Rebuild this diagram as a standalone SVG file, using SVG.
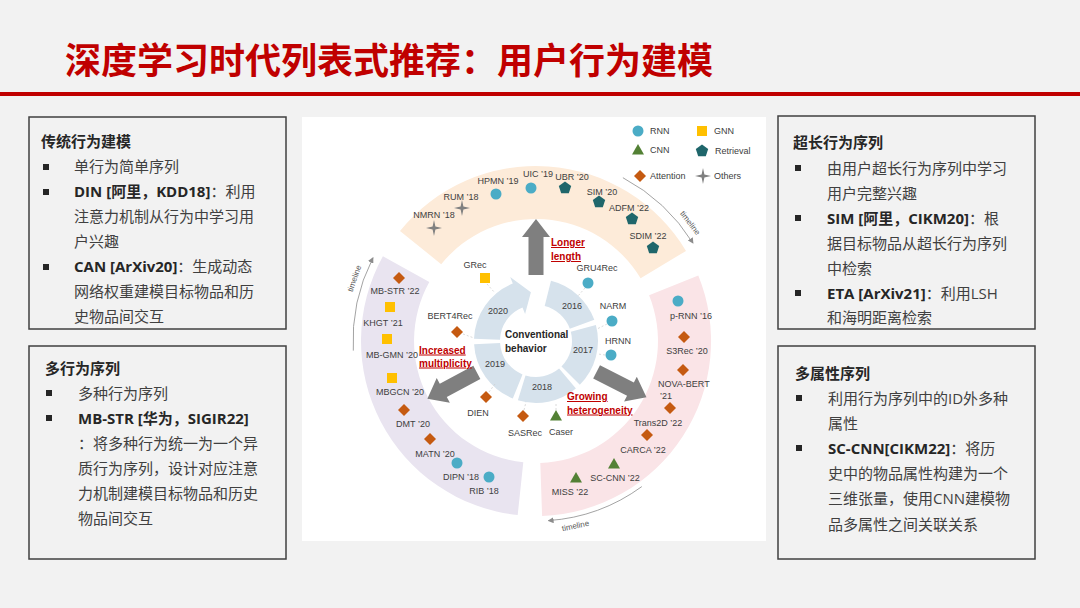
<svg xmlns="http://www.w3.org/2000/svg" width="1080" height="608" viewBox="0 0 1080 608">
<defs>
<style>
.title{font-family:'Noto Sans CJK SC',sans-serif;font-weight:700;font-size:36px;fill:#c00000}
.box{fill:none;stroke:#404040;stroke-width:1.5}
.bt{font-family:'Open Sans','Noto Sans CJK SC',sans-serif;font-size:15px;fill:#404040}
.b{font-weight:700;fill:#262626}
.bul{fill:#262626}
.lbl{font-family:'Liberation Sans',Arial,sans-serif;font-size:9px;fill:#404040;text-anchor:middle}
.lg{font-family:'Liberation Sans',Arial,sans-serif;font-size:9px;fill:#404040}
.red{font-family:'Liberation Sans',Arial,sans-serif;font-size:10px;font-weight:700;fill:#c00000;text-decoration:underline}
.conv{font-family:'Liberation Sans',Arial,sans-serif;font-size:10px;font-weight:700;fill:#262626}
.dash{stroke:#d0d0d0;stroke-width:0.8;stroke-dasharray:2 2;fill:none}
.tl{fill:none;stroke:#8c8c8c;stroke-width:0.8}
.tlt{font-family:'Liberation Sans',Arial,sans-serif;font-size:8px;fill:#595959;text-anchor:middle;dominant-baseline:central}
.ga{fill:#7f7f7f}
.ring{fill:#d6e2ec}
</style>
<marker id="ah" viewBox="0 0 6 6" refX="5" refY="3" markerWidth="6" markerHeight="6" orient="auto" markerUnits="userSpaceOnUse">
<path d="M0,0 L6,3 L0,6 Z" fill="#8c8c8c"/>
</marker>
<circle id="mc" r="5.5" fill="#4bacc6"/>
<rect id="ms" x="-5" y="-5" width="10" height="10" fill="#ffc000"/>
<polygon id="mt" points="0,-6 6,4.5 -6,4.5" fill="#538135"/>
<polygon id="md" points="0,-6 6,0 0,6 -6,0" fill="#c55a11"/>
<polygon id="mp" points="0,-6.5 6.18,-2 3.82,5.26 -3.82,5.26 -6.18,-2" fill="#1f666b"/>
<path id="mx" d="M0,-8 L1.4,-1.4 L8,0 L1.4,1.4 L0,8 L-1.4,1.4 L-8,0 L-1.4,-1.4 Z" fill="#808080"/>
<polygon id="garr" points="0,-7.5 38,-7.5 38,-14 56,0 38,14 38,7.5 0,7.5"/>
</defs>

<rect width="1080" height="608" fill="#f2f2f2"/>
<text class="title" x="65" y="74">深度学习时代列表式推荐：用户行为建模</text>
<rect x="0" y="92" width="1080" height="4" fill="#c00000"/>

<g id="box-traditional">
<rect class="box" x="29" y="117" width="257" height="212"/>
<text class="bt b" x="41" y="147">传统行为建模</text>
<rect class="bul" x="43" y="164" width="6" height="6"/>
<text class="bt" x="74" y="172">单行为简单序列</text>
<rect class="bul" x="43" y="189" width="6" height="6"/>
<text class="bt" x="74" y="197"><tspan class="b">DIN [阿里，KDD18]</tspan>：利用</text>
<text class="bt" x="74" y="222">注意力机制从行为中学习用</text>
<text class="bt" x="74" y="247">户兴趣</text>
<rect class="bul" x="43" y="264" width="6" height="6"/>
<text class="bt" x="74" y="272"><tspan class="b">CAN [ArXiv20]</tspan>：生成动态</text>
<text class="bt" x="74" y="297">网络权重建模目标物品和历</text>
<text class="bt" x="74" y="322">史物品间交互</text>
</g>

<g id="box-multibehavior">
<rect class="box" x="29" y="346" width="257" height="213"/>
<text class="bt b" x="45" y="374">多行为序列</text>
<rect class="bul" x="46" y="390" width="6" height="6"/>
<text class="bt" x="78" y="399">多种行为序列</text>
<rect class="bul" x="46" y="415" width="6" height="6"/>
<text class="bt" x="78" y="424"><tspan class="b">MB-STR [华为，SIGIR22]</tspan></text>
<text class="bt" x="78" y="449">：将多种行为统一为一个异</text>
<text class="bt" x="78" y="474">质行为序列，设计对应注意</text>
<text class="bt" x="78" y="499">力机制建模目标物品和历史</text>
<text class="bt" x="78" y="524">物品间交互</text>
</g>

<g id="box-longseq">
<rect class="box" x="778" y="116" width="257" height="213"/>
<text class="bt b" x="793" y="148">超长行为序列</text>
<rect class="bul" x="795" y="165" width="6" height="6"/>
<text class="bt" x="827" y="174">由用户超长行为序列中学习</text>
<text class="bt" x="827" y="199">用户完整兴趣</text>
<rect class="bul" x="795" y="215" width="6" height="6"/>
<text class="bt" x="827" y="224"><tspan class="b">SIM [阿里，CIKM20]</tspan>：根</text>
<text class="bt" x="827" y="249">据目标物品从超长行为序列</text>
<text class="bt" x="827" y="274">中检索</text>
<rect class="bul" x="795" y="290" width="6" height="6"/>
<text class="bt" x="827" y="299"><tspan class="b">ETA [ArXiv21]</tspan>：利用LSH</text>
<text class="bt" x="827" y="323">和海明距离检索</text>
</g>

<g id="box-multiattr">
<rect class="box" x="778" y="346" width="257" height="213"/>
<text class="bt b" x="795" y="379">多属性序列</text>
<rect class="bul" x="796" y="395" width="6" height="6"/>
<text class="bt" x="828" y="404">利用行为序列中的ID外多种</text>
<text class="bt" x="828" y="429">属性</text>
<rect class="bul" x="796" y="445" width="6" height="6"/>
<text class="bt" x="828" y="454"><tspan class="b">SC-CNN[CIKM22]</tspan>：将历</text>
<text class="bt" x="828" y="479">史中的物品属性构建为一个</text>
<text class="bt" x="828" y="504">三维张量，使用CNN建模物</text>
<text class="bt" x="828" y="530">品多属性之间关联关系</text>
</g>

<g id="figure">
<rect x="302" y="117" width="464" height="424" fill="#ffffff"/>
<path id="band-longer" d="M400,230.9 A175,175 0 0 1 686,250.9 L640.6,278.2 A122,122 0 0 0 441.2,264.2 Z" fill="#fdebd9"/>
<path id="band-multi" d="M517.7,515 A175,175 0 0 1 382.9,256.2 L429.3,281.9 A122,122 0 0 0 523.3,462.3 Z" fill="#e9e4f0"/>
<path id="band-hetero" d="M698.3,275.4 A175,175 0 0 1 542.1,515.9 L540.3,462.9 A122,122 0 0 0 649.1,295.3 Z" fill="#fae4e7"/>

<g id="cycle">
<path class="ring" d="M551,280.8 A62,62 0 0 1 594.3,319.8 L569.8,328.7 A36,36 0 0 0 544.7,306.1 Z"/>
<path class="ring" d="M595.9,325 A62,62 0 0 1 579.8,384.8 L561.5,366.5 A36,36 0 0 0 570.8,331.7 Z"/>
<path class="ring" d="M575.9,388.5 A62,62 0 0 1 517.9,400.3 L525.5,375.4 A36,36 0 0 0 559.1,368.6 Z"/>
<path class="ring" d="M512.8,398.5 A62,62 0 0 1 474.1,344.2 L500.1,342.9 A36,36 0 0 0 522.5,374.4 Z"/>
<path class="ring" d="M474,338.8 A62,62 0 0 1 512.8,283.5 L510.2,277 L530.9,292.3 L525.1,314.1 L522.5,307.6 A36,36 0 0 0 500,339.7 Z"/>
<text class="lbl" x="572" y="309">2016</text>
<text class="lbl" x="583" y="353">2017</text>
<text class="lbl" x="542" y="390">2018</text>
<text class="lbl" x="495" y="367">2019</text>
<text class="lbl" x="498" y="314">2020</text>
<text class="conv" x="505" y="338">Conventional</text>
<text class="conv" x="505" y="352">behavior</text>
</g>

<g id="big-arrows">
<use href="#garr" class="ga" transform="translate(536,341) rotate(-90) translate(66,0)"/>
<use href="#garr" class="ga" transform="translate(536,341) rotate(152) translate(67,0)"/>
<use href="#garr" class="ga" transform="translate(536,341) rotate(27) translate(68,0)"/>
<text class="red" x="551" y="246">Longer</text>
<text class="red" x="551" y="260">length</text>
<text class="red" x="419" y="353.5">Increased</text>
<text class="red" x="419" y="366.5">multiplicity</text>
<text class="red" x="567" y="400">Growing</text>
<text class="red" x="567" y="413.5">heterogeneity</text>
</g>

<g id="connectors">
<line class="dash" x1="487" y1="284" x2="495" y2="293"/>
<line class="dash" x1="463" y1="334" x2="474" y2="338"/>
<line class="dash" x1="489" y1="392" x2="495" y2="384"/>
<line class="dash" x1="524" y1="410" x2="526" y2="402"/>
<line class="dash" x1="556" y1="410" x2="556" y2="402"/>
<line class="dash" x1="585" y1="288" x2="578" y2="296"/>
<line class="dash" x1="607" y1="324" x2="597" y2="329"/>
<line class="dash" x1="605" y1="355" x2="598" y2="354"/>
<path class="tl" d="M622.9,177.7 A185,185 0 0 1 692.9,243" marker-end="url(#ah)"/>
<path class="tl" d="M353.3,350.6 A183,183 0 0 1 372.9,257.9" marker-end="url(#ah)"/>
<path class="tl" d="M641.8,486.6 A180,180 0 0 1 548.6,520.6" marker-end="url(#ah)"/>
<text class="tlt" transform="translate(690,223) rotate(52.5)">timeline</text>
<text class="tlt" transform="translate(354.5,278.5) rotate(-71)">timeline</text>
<text class="tlt" transform="translate(575.5,526) rotate(-12)">timeline</text>
</g>

<g id="legend">
<use href="#mc" x="638" y="131"/><text class="lg" x="650" y="134">RNN</text>
<use href="#ms" x="702" y="131"/><text class="lg" x="714" y="134">GNN</text>
<use href="#mt" x="638" y="150"/><text class="lg" x="650" y="153">CNN</text>
<use href="#mp" x="702" y="151"/><text class="lg" x="715" y="154">Retrieval</text>
<use href="#md" x="640" y="176"/><text class="lg" x="650" y="179">Attention</text>
<use href="#mx" x="703" y="176"/><text class="lg" x="714" y="179">Others</text>
</g>

<g id="n-gru4rec"><use href="#mc" x="588" y="283"/><text class="lbl" x="597" y="271">GRU4Rec</text></g>
<g id="n-narm"><use href="#mc" x="612" y="321"/><text class="lbl" x="613" y="309">NARM</text></g>
<g id="n-hrnn"><use href="#mc" x="611" y="355"/><text class="lbl" x="618" y="344">HRNN</text></g>
<g id="n-grec"><use href="#ms" x="485" y="278"/><text class="lbl" x="475" y="268">GRec</text></g>
<g id="n-bert4rec"><use href="#md" x="457" y="332"/><text class="lbl" x="450" y="319">BERT4Rec</text></g>
<g id="n-dien"><use href="#md" x="486" y="397"/><text class="lbl" x="478" y="416">DIEN</text></g>
<g id="n-sasrec"><use href="#md" x="523" y="416"/><text class="lbl" x="525" y="436">SASRec</text></g>
<g id="n-caser"><use href="#mt" x="556" y="416"/><text class="lbl" x="561" y="435">Caser</text></g>

<g id="n-nmrn"><use href="#mx" x="434" y="228"/><text class="lbl" x="434" y="218">NMRN ’18</text></g>
<g id="n-rum"><use href="#mx" x="462" y="208"/><text class="lbl" x="461" y="200">RUM ’18</text></g>
<g id="n-hpmn"><use href="#mc" x="496" y="194"/><text class="lbl" x="498" y="184">HPMN ’19</text></g>
<g id="n-uic"><use href="#mc" x="531" y="188"/><text class="lbl" x="538" y="177">UIC ’19</text></g>
<g id="n-ubr"><use href="#mp" x="565" y="188"/><text class="lbl" x="572" y="180">UBR ’20</text></g>
<g id="n-sim"><use href="#mp" x="599" y="202"/><text class="lbl" x="602" y="195">SIM ’20</text></g>
<g id="n-adfm"><use href="#mp" x="632" y="219"/><text class="lbl" x="629" y="211">ADFM ’22</text></g>
<g id="n-sdim"><use href="#mp" x="653" y="248"/><text class="lbl" x="648" y="239">SDIM ’22</text></g>

<g id="n-mbstr"><use href="#md" x="399" y="278"/><text class="lbl" x="395" y="294">MB-STR ’22</text></g>
<g id="n-khgt"><use href="#ms" x="390" y="307"/><text class="lbl" x="383" y="326">KHGT ’21</text></g>
<g id="n-mbgmn"><use href="#ms" x="387" y="339"/><text class="lbl" x="392" y="358">MB-GMN ’20</text></g>
<g id="n-mbgcn"><use href="#ms" x="392" y="378"/><text class="lbl" x="400" y="395">MBGCN ’20</text></g>
<g id="n-dmt"><use href="#md" x="404" y="410"/><text class="lbl" x="413" y="427">DMT ’20</text></g>
<g id="n-matn"><use href="#md" x="430" y="439"/><text class="lbl" x="435" y="457">MATN ’20</text></g>
<g id="n-dipn"><use href="#mc" x="457" y="463"/><text class="lbl" x="461" y="480">DIPN ’18</text></g>
<g id="n-rib"><use href="#mc" x="489" y="477"/><text class="lbl" x="484" y="494">RIB ’18</text></g>

<g id="n-prnn"><use href="#mc" x="678" y="301"/><text class="lbl" x="691" y="319">p-RNN ’16</text></g>
<g id="n-s3rec"><use href="#md" x="684" y="337"/><text class="lbl" x="687" y="354">S3Rec ’20</text></g>
<g id="n-novabert"><use href="#md" x="683" y="370"/><text class="lg" x="658" y="387">NOVA-BERT</text><text class="lg" x="660" y="399">’21</text></g>
<g id="n-trans2d"><use href="#md" x="670" y="408"/><text class="lbl" x="658" y="426">Trans2D ’22</text></g>
<g id="n-carca"><use href="#md" x="647" y="435"/><text class="lbl" x="643" y="453">CARCA ’22</text></g>
<g id="n-sccnn"><use href="#mt" x="614" y="464"/><text class="lbl" x="615" y="481">SC-CNN ’22</text></g>
<g id="n-miss"><use href="#mt" x="576" y="478"/><text class="lbl" x="570" y="495">MISS ’22</text></g>
</g>
</svg>
